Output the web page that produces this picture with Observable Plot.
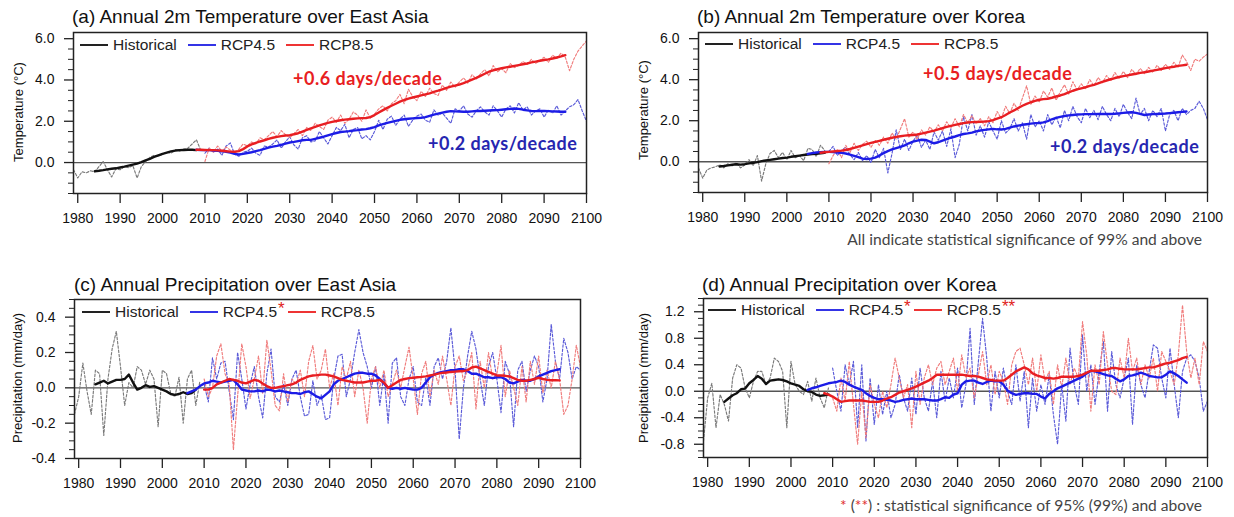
<!DOCTYPE html>
<html>
<head>
<meta charset="utf-8">
<script src="https://cdn.jsdelivr.net/npm/d3@7"></script>
<script src="https://cdn.jsdelivr.net/npm/@observablehq/plot@0.6"></script>
<style>
  body { margin: 0; background: #fff; }
  #root { position: relative; width: 1234px; height: 517px; overflow: hidden; font-family: "Liberation Sans", Arial, sans-serif; color: #111; }
  .panel { position: absolute; }
  .panel svg { overflow: visible; }
  .title { position: absolute; font-size: 19px; line-height: 20px; white-space: nowrap; color: #111; }
  .ylab { position: absolute; font-size: 13px; white-space: nowrap; transform: translate(-50%, -50%) rotate(-90deg); color: #111; }
  .legend { position: absolute; display: flex; align-items: center; font-size: 15.5px; line-height: 18px; white-space: nowrap; color: #222; }
  .legend .sw { display: inline-block; width: 28px; height: 2px; margin-right: 5px; }
  .legend .lab { margin-right: 11px; }
  .legend .star { color: #e02020; position: relative; top: -3px; font-size: 17px; margin-left: 1px; margin-right: 3px; }
  .note { position: absolute; font-family: Lato, "Open Sans", sans-serif; font-weight: 700; font-size: 18px; letter-spacing: 0.5px; line-height: 18px; white-space: nowrap; }
  .caption { position: absolute; font-family: Lato, "Open Sans", sans-serif; font-size: 15.6px; line-height: 16px; white-space: nowrap; color: #444; }
  .caption .red { color: #e03030; }
</style>
</head>
<body>
<div id="root"></div>
<script>
// ---------------- shared ticks ----------------
const xTicks = [1980, 1990, 2000, 2010, 2020, 2030, 2040, 2050, 2060, 2070, 2080, 2090, 2100];
const tempMajorTicks = [0, 2, 4, 6];
const tempMinorTicks = [-1.5, -1, -0.5, 0.5, 1, 1.5, 2.5, 3, 3.5, 4.5, 5, 5.5];
const precipEAMajorTicks = [-0.4, -0.2, 0, 0.2, 0.4];
const precipEAMinorTicks = [-0.35, -0.3, -0.25, -0.15, -0.1, -0.05, 0.05, 0.1, 0.15, 0.25, 0.3, 0.35, 0.45, 0.5];
const precipKRMajorTicks = [-0.8, -0.4, 0, 0.4, 0.8, 1.2];
const precipKRMinorTicks = [-1.0, -0.9, -0.7, -0.6, -0.5, -0.3, -0.2, -0.1, 0.1, 0.2, 0.3, 0.5, 0.6, 0.7, 0.9, 1.0, 1.1, 1.3, 1.4];

const histAnnualStart = 1979;
const rcpAnnualStart = 2010;
const histSmoothStart = 1984;

// ---------------- (a) Temperature, East Asia ----------------
const aHistAnnual = [-0.35, -0.75, -0.45, -0.5, -0.4, -0.45, -0.2, 0.05, -0.35, -0.7, -0.3, -0.35, -0.2, -0.25, -0.15, -0.75, -0.2, 0.05, 0.25, 0.35, 0.3, 0.4, 0.5, 0.45, 0.6, 0.55, 0.65, 0.7, 0.9, 1.1, 0.6];
const aRcp45Annual = [0.45, 0.7, 0.5, 0.65, 0.35, 0.8,
  0.95, 0.4, 0.3, 0.5, 0.55, 0.7, 0.45, 0.35, 0.8, 0.75,
  0.9, 1.1, 0.7, 1.0, 1.25, 0.85, 0.65, 1.2, 1.3, 1.0,
  1.05, 1.5, 1.2, 0.9, 1.3, 1.7, 1.55, 1.85, 1.2, 1.6,
  1.7, 1.15, 1.3, 1.1, 1.5, 2.05, 1.6, 2.1, 2.25, 1.8,
  2.1, 2.3, 1.75, 2.05, 2.25, 2.35, 2.05, 1.95, 2.55, 2.3,
  2.4, 2.15, 1.9, 2.6, 2.5, 2.75, 2.35, 2.2, 2.5, 2.7,
  2.45, 2.3, 2.75, 2.5, 2.2, 2.6, 2.75, 2.4, 2.9, 2.55,
  2.7, 2.3, 2.5, 2.6, 2.2, 2.55, 2.4, 2.75, 2.3, 2.5,
  2.7, 2.8, 3.05, 2.5, 2.0];
const aRcp85Annual = [0.05, 0.7, 0.5, 0.8, 0.55, 0.75,
  0.6, 0.45, 0.65, 0.9, 0.8, 1.0, 0.9, 1.2, 1.1, 1.3,
  1.5, 1.25, 1.55, 1.35, 1.2, 1.4, 1.6, 1.3, 1.7, 1.55,
  1.9, 1.75, 1.6, 2.05, 2.2, 1.95, 2.3, 1.9, 2.1, 2.45,
  2.3, 2.0, 2.55, 2.15, 2.35, 2.6, 2.75, 2.5, 2.85, 3.0,
  3.3, 2.85, 3.55, 3.2, 3.0, 3.45, 3.2, 3.6, 3.35, 3.25,
  3.75, 3.5, 3.9, 3.65, 3.9, 4.1, 3.85, 4.25, 4.05, 4.3,
  4.5, 4.2, 4.7, 4.4, 4.55, 4.35, 4.8, 4.6, 4.7, 4.9,
  4.75, 5.0, 4.8, 4.95, 5.1, 4.85, 5.2, 5.05, 5.3, 5.1,
  4.45, 5.0, 5.4, 5.65, 5.9];
const aHistSmooth = [-0.42, -0.4, -0.37, -0.33, -0.3, -0.28, -0.24, -0.2, -0.15, -0.1, -0.05, 0.02, 0.1, 0.18, 0.27, 0.35, 0.42, 0.48, 0.54, 0.58, 0.6, 0.61, 0.62, 0.62, 0.6];
const aRcp45SmoothStart = 2008;
const aRcp45Smooth = [0.62, 0.6, 0.6, 0.6, 0.58, 0.57, 0.55, 0.52, 0.48, 0.42,
  0.39, 0.42, 0.46, 0.5, 0.55, 0.6, 0.66, 0.72, 0.77, 0.81,
  0.86, 0.92, 0.97, 1.0, 1.04, 1.08, 1.1, 1.1, 1.15, 1.2,
  1.25, 1.32, 1.38, 1.43, 1.48, 1.5, 1.52, 1.55, 1.57, 1.6,
  1.62, 1.66, 1.72, 1.8, 1.86, 1.92, 1.97, 2.02, 2.07, 2.1,
  2.12, 2.14, 2.16, 2.17, 2.2, 2.26, 2.32, 2.37, 2.42, 2.46,
  2.49, 2.48, 2.47, 2.46, 2.46, 2.48, 2.5, 2.5, 2.51, 2.52,
  2.53, 2.54, 2.56, 2.58, 2.6, 2.62, 2.6, 2.56, 2.53, 2.5,
  2.49, 2.5, 2.5, 2.49, 2.48, 2.47, 2.46, 2.46];
const aRcp85SmoothStart = 2008;
const aRcp85Smooth = [0.62, 0.62, 0.61, 0.6, 0.6, 0.59, 0.57, 0.55, 0.53, 0.52,
  0.55, 0.65, 0.78, 0.88, 0.95, 1.02, 1.08, 1.15, 1.2, 1.24,
  1.28, 1.31, 1.33, 1.37, 1.42, 1.5, 1.58, 1.66, 1.73, 1.8,
  1.86, 1.92, 1.97, 2.01, 2.05, 2.08, 2.1, 2.12, 2.14, 2.15,
  2.16, 2.2, 2.3, 2.42, 2.54, 2.65, 2.75, 2.85, 2.95, 3.03,
  3.1, 3.15, 3.2, 3.25, 3.3, 3.35, 3.42, 3.48, 3.55, 3.62,
  3.68, 3.73, 3.78, 3.85, 3.93, 4.02, 4.1, 4.2, 4.3, 4.4,
  4.47, 4.52, 4.57, 4.61, 4.64, 4.68, 4.72, 4.76, 4.8, 4.85,
  4.89, 4.93, 4.97, 5.0, 5.04, 5.09, 5.14, 5.2];

// ---------------- (b) Temperature, Korea ----------------
const bHistAnnual = [-0.3, -0.8, -0.4, -0.3, -0.25, -0.15, -0.3, -0.1, -0.2, -0.05, -0.3, -0.15, 0.1, -0.2, 0.3, -0.95, -0.1, 0.4, 0.55, 0.2, 0.45, 0.1, 0.55, 0.2, 0.3, 0.05, 0.65, 0.6, 0.25, 0.8, 0.55];
const bRcp45Annual = [0.5, 0.75, 0.3, 0.55, 0.7, 0.35,
  0.1, 0.45, 0.05, 0.3, -0.05, 0.6, 0.2, 0.65, -0.55, 0.4,
  1.55, 0.6, 1.1, 0.55, 1.0, 1.3, 0.7, 1.05, 0.6, 1.45,
  1.05, 1.5, 0.75, 1.6, 0.2, 0.85, 2.2, 1.5, 2.3, 1.3,
  1.75, 1.2, 1.95, 1.5, 1.1, 2.0, 1.4, 1.6, 2.1, 1.5,
  1.9, 1.1, 2.3, 1.7, 2.0, 1.5, 2.3, 1.8, 2.2, 1.65,
  2.5, 2.0, 2.7, 2.2, 1.9, 2.6, 2.15, 2.5, 2.05, 2.7,
  2.3, 2.0, 2.6, 2.2, 2.8, 2.4, 2.1, 3.1, 2.3, 2.6,
  2.0, 2.5, 2.2, 2.6, 1.5, 2.3, 2.5, 2.0, 2.6, 2.3,
  2.5, 2.6, 2.95, 2.6, 2.05];
const bRcp85Annual = [-0.1, 0.3, 0.6, 0.2, 0.8, 0.45,
  0.9, 0.55, 0.85, 1.0, 0.7, 1.05, 0.8, 1.2, 0.9, 1.4,
  1.1, 1.6, 2.1, 1.2, 1.45, 1.1, 1.55, 1.3, 1.7, 1.45,
  1.8, 1.5, 1.95, 1.65, 2.1, 1.7, 2.3, 1.9, 2.25, 1.85,
  2.1, 1.75, 2.2, 1.9, 2.45, 2.1, 2.7, 2.35, 2.85, 2.5,
  3.1, 3.7, 2.8, 3.2, 2.9, 3.45, 3.15, 3.6, 3.0, 3.4,
  3.75, 3.3, 3.9, 3.5, 3.8, 3.55, 4.0, 3.7, 4.1, 3.85,
  4.2, 3.95, 4.35, 4.05, 4.4, 4.1, 4.5, 4.25, 4.55, 4.3,
  4.6, 4.35, 4.7, 4.45, 4.75, 4.5, 4.85, 4.6, 5.2, 4.9,
  4.45, 5.0, 4.9, 5.1, 5.25];
const bHistSmooth = [-0.23, -0.21, -0.18, -0.15, -0.12, -0.14, -0.12, -0.08, -0.05, -0.02, 0.03, 0.06, 0.09, 0.12, 0.15, 0.18, 0.2, 0.24, 0.27, 0.3, 0.33, 0.35, 0.37, 0.39, 0.41, 0.43];
const bRcp45SmoothStart = 2005;
const bRcp45Smooth = [0.38, 0.42, 0.45, 0.47, 0.48, 0.48, 0.47, 0.45, 0.43, 0.4,
  0.35, 0.29, 0.22, 0.15, 0.13, 0.15, 0.2, 0.3, 0.42, 0.52,
  0.6, 0.66, 0.72, 0.8, 0.9, 0.98, 1.03, 1.07, 1.06, 0.98,
  0.9, 0.95, 1.03, 1.1, 1.17, 1.23, 1.3, 1.35, 1.38, 1.42,
  1.48, 1.52, 1.55, 1.58, 1.6, 1.58, 1.57, 1.6, 1.66, 1.72,
  1.76, 1.8, 1.83, 1.86, 1.88, 1.88, 1.92, 1.98, 2.07, 2.14,
  2.19, 2.23, 2.26, 2.28, 2.3, 2.31, 2.32, 2.32, 2.32, 2.33,
  2.33, 2.33, 2.33, 2.34, 2.36, 2.38, 2.4, 2.41, 2.38, 2.33,
  2.28, 2.3, 2.32, 2.33, 2.34, 2.35, 2.37, 2.39, 2.41, 2.43,
  2.45];
const bRcp85SmoothStart = 2008;
const bRcp85Smooth = [0.44, 0.46, 0.48, 0.5, 0.52, 0.54, 0.57, 0.62, 0.68, 0.74,
  0.8, 0.86, 0.92, 0.97, 1.02, 1.07, 1.12, 1.17, 1.21, 1.24,
  1.27, 1.29, 1.3, 1.33, 1.37, 1.42, 1.47, 1.52, 1.58, 1.64,
  1.7, 1.75, 1.8, 1.84, 1.88, 1.91, 1.93, 1.94, 1.95, 1.96,
  1.98, 2.03, 2.1, 2.17, 2.28, 2.4, 2.5, 2.62, 2.73, 2.82,
  2.9, 2.97, 3.02, 3.05, 3.07, 3.12, 3.18, 3.23, 3.3, 3.38,
  3.46, 3.53, 3.58, 3.63, 3.7, 3.75, 3.82, 3.89, 3.96, 4.02,
  4.08, 4.13, 4.17, 4.21, 4.25, 4.29, 4.33, 4.36, 4.4, 4.44,
  4.48, 4.52, 4.56, 4.6, 4.63, 4.67, 4.7, 4.73];

// ---------------- (c) Precipitation, East Asia ----------------
const cHistAnnual = [-0.15, -0.05, 0.14, -0.02, -0.15, 0.1, 0.08, -0.27, 0.05, 0.22, 0.32, 0.12, -0.1, 0.03, 0.0, 0.12, 0.1, 0.02, 0.1, 0.05, -0.22, 0.1, 0.08, -0.03, -0.05, 0.06, -0.2, 0.05, 0.1, -0.1, 0.04];
const cRcp45Annual = [0.02, -0.08, 0.17, 0.05, 0.14, 0.15, -0.02, -0.18, 0.2, 0.05,
  -0.12, 0.02, 0.12, -0.05, -0.17, 0.08, 0.22, -0.05, -0.08, 0.02,
  -0.1, 0.05, 0.1, -0.05, -0.16, -0.15, 0.04, -0.1, -0.04, -0.18,
  -0.17, 0.05, 0.18, 0.19, -0.05, 0.05, 0.2, 0.33, 0.2, 0.12,
  0.0, 0.12, -0.1, 0.08, -0.2, 0.14, 0.17, -0.05, -0.1, 0.05,
  0.12, -0.08, -0.1, 0.06, -0.1, 0.12, 0.17, 0.05, 0.15, 0.34,
  0.1, -0.29, 0.0, 0.18, 0.32, 0.22, 0.05, -0.1, 0.12, 0.2,
  0.05, -0.14, 0.15, 0.08, -0.22, 0.1, 0.15, -0.02, 0.1, 0.18,
  0.12, -0.08, 0.05, 0.36, 0.15, 0.05, 0.28, 0.2, 0.05, 0.12,
  0.1];
const cRcp85Annual = [0.05, -0.05, 0.0, 0.18, 0.25, 0.08, 0.02, -0.35, -0.05, 0.25,
  0.12, -0.06, 0.05, 0.18, -0.03, 0.27, 0.1, -0.1, -0.13, 0.08,
  -0.08, 0.05, 0.02, 0.1, -0.05, 0.15, 0.24, 0.05, 0.1, 0.22,
  0.0, 0.08, -0.1, 0.12, 0.05, 0.15, -0.05, 0.1, 0.0, -0.2,
  0.05, 0.12, 0.0, 0.1, -0.05, 0.02, 0.1, 0.0, 0.12, 0.23,
  0.05, -0.15, 0.08, 0.15, -0.05, 0.1, 0.02, 0.18, 0.05, -0.1,
  0.12, 0.18, 0.04, 0.1, 0.2, -0.12, 0.15, 0.0, 0.2, 0.05,
  0.08, 0.24, -0.05, 0.1, 0.0, -0.1, 0.12, -0.08, 0.15, 0.02,
  0.18, -0.03, 0.1, 0.0, 0.15, 0.05, -0.15, -0.1, 0.05, 0.24,
  0.12];
const cHistSmooth = [0.02, 0.03, 0.04, 0.025, 0.035, 0.045, 0.045, 0.05, 0.075, 0.03, -0.01, 0.0, 0.015, 0.005, 0.01, 0.0, -0.01, -0.02, -0.035, -0.04, -0.035, -0.025, -0.035, -0.03, -0.01];
const cRcp45SmoothStart = 2006;
const cRcp45Smooth = [-0.03, -0.02, -0.01, 0.01,
  0.025, 0.03, 0.04, 0.035, 0.03, 0.035, 0.04, 0.045, 0.02, -0.01,
  -0.015, -0.02, -0.02, -0.015, -0.02, -0.01, -0.013, -0.02, -0.015, -0.02,
  -0.025, -0.03, -0.03, -0.035, -0.025, -0.02, -0.035, -0.05, -0.06, -0.04,
  -0.02, 0.02, 0.04, 0.05, 0.06, 0.07, 0.08, 0.085, 0.085, 0.08,
  0.08, 0.07, 0.05, 0.025, 0.0, -0.005, 0.0, -0.005, 0.0, -0.005,
  -0.01, -0.01, 0.0, 0.03, 0.06, 0.075, 0.085, 0.09, 0.095, 0.1,
  0.1, 0.105, 0.105, 0.095, 0.08, 0.08, 0.07, 0.06, 0.06, 0.055,
  0.06, 0.06, 0.05, 0.03, 0.025, 0.035, 0.045, 0.04, 0.04, 0.05,
  0.065, 0.075, 0.085, 0.095, 0.1, 0.105];
const cRcp85SmoothStart = 2010;
const cRcp85Smooth = [-0.01, -0.01, 0.0, 0.02, 0.03, 0.04, 0.05, 0.045, 0.04, 0.03,
  0.025, 0.035, 0.045, 0.04, 0.025, 0.01, 0.0, 0.0, 0.005, 0.01,
  0.015, 0.02, 0.03, 0.045, 0.055, 0.065, 0.07, 0.072, 0.075, 0.075,
  0.07, 0.065, 0.055, 0.045, 0.04, 0.035, 0.03, 0.03, 0.03, 0.035,
  0.04, 0.04, 0.045, 0.03, 0.0, 0.015, 0.03, 0.045, 0.05, 0.055,
  0.057, 0.06, 0.062, 0.065, 0.07, 0.075, 0.08, 0.085, 0.087, 0.09,
  0.092, 0.094, 0.095, 0.1, 0.115, 0.12, 0.11, 0.1, 0.09, 0.08,
  0.07, 0.07, 0.068, 0.065, 0.055, 0.045, 0.04, 0.04, 0.045, 0.05,
  0.057, 0.05, 0.045, 0.043, 0.043, 0.042];

// ---------------- (d) Precipitation, Korea ----------------
const dHistAnnual = [-0.75, -0.1, 0.12, -0.55, -0.05, -0.2, -0.45, 0.2, 0.4, 0.35, 0.05, -0.1, 0.15, 0.3, 0.3, 0.1, 0.2, 0.5, 0.45, 0.3, -0.55, 0.45, 0.1, 0.0, -0.05, 0.15, -0.15, 0.2, -0.1, -0.25, 0.05];
const dRcp45Annual = [0.35, 0.0, -0.3, 0.4, 0.1, 0.45, -0.55, 0.4, -0.75, 0.2,
  -0.5, 0.1, -0.35, 0.0, -0.4, -0.2, 0.25, -0.1, -0.3, 0.2,
  -0.35, 0.35, -0.1, -0.3, 0.15, -0.4, 0.3, -0.15, 0.2, -0.1,
  0.35, -0.25, 0.1, 0.95, -0.2, 0.45, 1.1, 0.5, -0.3, 0.3,
  -0.1, 0.35, 0.0, -0.2, 0.4, -0.15, 0.3, -0.55, 0.2, -0.3,
  0.1, -0.2, 0.25, -0.35, -0.8, 0.1, -0.45, 0.65, 0.1, -0.2,
  0.85, 0.0, 0.4, -0.2, 0.3, 0.75, -0.3, 0.6, 0.1, -0.1,
  0.2, 0.5, -0.5, 0.4, 0.1, -0.1, 0.3, 0.7, 0.65, 0.2,
  -0.1, 0.65, 0.1, -0.4, 0.3, 0.5, 0.55, 0.45, 0.2, -0.3,
  -0.15];
const dRcp85Annual = [-0.1, -0.3, 0.2, -0.15, 0.45, -0.2, -0.8, 0.0, -0.7, 0.1,
  -0.2, -0.4, 0.0, -0.25, 0.1, 0.5, 0.2, -0.1, 0.1, -0.55,
  0.3, -0.2, 0.2, 0.4, 0.1, 0.35, 0.45, 0.1, 0.3, 0.5,
  0.0, 0.55, 0.2, 0.35, -0.1, 0.25, 0.6, 0.1, 0.4, -0.05,
  0.3, 0.15, -0.2, 0.4, 0.6, 0.65, 0.4, 0.1, 0.5, 0.0,
  0.55, 0.15, 0.3, -0.2, 0.4, 0.05, 0.5, 0.1, 0.35, 0.2,
  1.05, 0.55, -0.3, 0.4, 0.1, 0.9, 0.4, 0.0, -0.05, 0.5,
  0.2, 0.8, 0.3, 0.5, 0.1, 0.4, 0.2, 0.5, 0.0, 0.6,
  0.45, 0.3, 0.1, 0.55, 1.3, 0.6, 0.2, 0.5, 0.1, 0.75,
  0.6];
const dHistSmooth = [-0.16, -0.11, -0.06, -0.03, 0.03, 0.04, 0.12, 0.17, 0.23, 0.19, 0.11, 0.16, 0.17, 0.18, 0.17, 0.15, 0.12, 0.1, 0.08, 0.03, 0.0, -0.01, -0.05, -0.07, -0.06, -0.05];
const dRcp45SmoothStart = 2004;
const dRcp45Smooth = [0.02, 0.045, 0.06, 0.08, 0.1, 0.12,
  0.13, 0.14, 0.16, 0.14, 0.1, 0.07, 0.045, 0.02, -0.03, -0.07,
  -0.1, -0.12, -0.12, -0.13, -0.14, -0.16, -0.15, -0.13, -0.12, -0.11,
  -0.12, -0.12, -0.12, -0.13, -0.14, -0.14, -0.12, -0.09, -0.1, -0.05,
  -0.03, 0.1, 0.15, 0.16, 0.16, 0.13, 0.11, 0.14, 0.16, 0.15,
  0.15, 0.1, 0.01, -0.03, -0.055, -0.04, -0.03, -0.03, -0.04, -0.04,
  -0.08, -0.11, -0.04, 0.0, 0.045, 0.07, 0.1, 0.13, 0.16, 0.19,
  0.22, 0.27, 0.31, 0.3, 0.28, 0.26, 0.24, 0.23, 0.19, 0.15,
  0.18, 0.23, 0.24, 0.26, 0.28, 0.26, 0.23, 0.22, 0.21, 0.21,
  0.25, 0.3, 0.27, 0.23, 0.18, 0.13];
const dRcp85SmoothStart = 2008;
const dRcp85Smooth = [-0.03, -0.05,
  -0.08, -0.12, -0.16, -0.15, -0.14, -0.14, -0.14, -0.14, -0.15, -0.16,
  -0.16, -0.16, -0.14, -0.11, -0.09, -0.055, -0.02, 0.0, 0.02, 0.045,
  0.07, 0.1, 0.13, 0.16, 0.2, 0.25, 0.25, 0.25, 0.25, 0.25,
  0.25, 0.25, 0.24, 0.23, 0.23, 0.22, 0.2, 0.18, 0.17, 0.16,
  0.16, 0.16, 0.2, 0.25, 0.3, 0.33, 0.36, 0.33, 0.27, 0.24,
  0.22, 0.2, 0.2, 0.19, 0.2, 0.22, 0.22, 0.22, 0.22, 0.23,
  0.25, 0.28, 0.31, 0.31, 0.31, 0.32, 0.33, 0.35, 0.35, 0.34,
  0.33, 0.33, 0.33, 0.33, 0.34, 0.35, 0.36, 0.36, 0.38, 0.4,
  0.42, 0.43, 0.45, 0.47, 0.5, 0.52];

// ---------------- colours ----------------
const colHistDash = "#7a7a7a", col45Dash = "#5a5ad8", col85Dash = "#f07c7c";
const colHist = "#111111", col45 = "#1c1ce6", col85 = "#e81e22";

function rows(start, values) { return values.map((v, i) => ({ year: start + i, value: v })); }

const panels = [
  { left: 0, top: 0, width: 600, height: 230, ml: 73, mr: 14, mt: 32, mb: 37, yDomain: [-1.5, 6.3],
    major: tempMajorTicks, minor: tempMinorTicks,
    hA: aHistAnnual, r45A: aRcp45Annual, r85A: aRcp85Annual,
    hS: aHistSmooth, r45S: aRcp45Smooth, r45Start: aRcp45SmoothStart, r85S: aRcp85Smooth, r85Start: aRcp85SmoothStart },
  { left: 620, top: 0, width: 600, height: 230, ml: 78, mr: 13, mt: 32, mb: 38, yDomain: [-1.5, 6.3],
    major: tempMajorTicks, minor: tempMinorTicks,
    hA: bHistAnnual, r45A: bRcp45Annual, r85A: bRcp85Annual,
    hS: bHistSmooth, r45S: bRcp45Smooth, r45Start: bRcp45SmoothStart, r85S: bRcp85Smooth, r85Start: bRcp85SmoothStart },
  { left: 0, top: 260, width: 600, height: 230, ml: 74, mr: 20, mt: 39, mb: 32, yDomain: [-0.4, 0.5],
    major: precipEAMajorTicks, minor: precipEAMinorTicks,
    hA: cHistAnnual, r45A: cRcp45Annual, r85A: cRcp85Annual,
    hS: cHistSmooth, r45S: cRcp45Smooth, r45Start: cRcp45SmoothStart, r85S: cRcp85Smooth, r85Start: cRcp85SmoothStart },
  { left: 620, top: 260, width: 600, height: 230, ml: 83, mr: 13, mt: 38, mb: 33, yDomain: [-1.0, 1.4],
    major: precipKRMajorTicks, minor: precipKRMinorTicks,
    hA: dHistAnnual, r45A: dRcp45Annual, r85A: dRcp85Annual,
    hS: dHistSmooth, r45S: dRcp45Smooth, r45Start: dRcp45SmoothStart, r85S: dRcp85Smooth, r85Start: dRcp85SmoothStart }
];

const root = document.getElementById("root");

for (const p of panels) {
  const dash = { x: "year", y: "value", strokeWidth: 1.15, strokeDasharray: "2.5,1.8" };
  const solid = { x: "year", y: "value", strokeWidth: 2.4 };
  const chart = Plot.plot({
    width: p.width, height: p.height,
    marginLeft: p.ml, marginRight: p.mr, marginTop: p.mt, marginBottom: p.mb,
    x: { domain: [1979, 2100] },
    y: { domain: p.yDomain },
    style: { fontFamily: "'Liberation Sans', Arial, sans-serif", fontSize: "14px", color: "#111", background: "transparent", overflow: "visible" },
    marks: [
      Plot.ruleY([0], { stroke: "#555", strokeWidth: 1.3 }),
      Plot.lineY(rows(histAnnualStart, p.hA), { ...dash, stroke: colHistDash }),
      Plot.lineY(rows(rcpAnnualStart, p.r45A), { ...dash, stroke: col45Dash }),
      Plot.lineY(rows(rcpAnnualStart, p.r85A), { ...dash, stroke: col85Dash }),
      Plot.lineY(rows(histSmoothStart, p.hS), { ...solid, stroke: colHist }),
      Plot.lineY(rows(p.r45Start, p.r45S), { ...solid, stroke: col45 }),
      Plot.lineY(rows(p.r85Start, p.r85S), { ...solid, stroke: col85 }),
      Plot.axisX({ ticks: xTicks, tickSize: 10, tickPadding: 10, tickFormat: d => String(d), label: null, stroke: "#222", strokeWidth: 1.3 }),
      Plot.axisY({ ticks: p.minor, tickSize: 5, tickFormat: () => "", label: null, stroke: "#222" }),
      Plot.axisY({ ticks: p.major, tickSize: 9, tickPadding: 10, tickFormat: d => d.toFixed(1), label: null, stroke: "#222", strokeWidth: 1.3 }),
      Plot.frame({ stroke: "#222", strokeWidth: 1.5 })
    ]
  });
  const holder = document.createElement("div");
  holder.className = "panel";
  holder.style.left = p.left + "px";
  holder.style.top = p.top + "px";
  holder.appendChild(chart);
  root.appendChild(holder);
}

// ---------------- text overlays ----------------
function addDiv(cls, html, styles) {
  const d = document.createElement("div");
  d.className = cls;
  d.innerHTML = html;
  Object.assign(d.style, styles);
  root.appendChild(d);
  return d;
}

const titles = [
  ["(a) Annual 2m Temperature over East Asia", 72, 7],
  ["(b) Annual 2m Temperature over Korea", 697, 7],
  ["(c) Annual Precipitation over East Asia", 74, 275],
  ["(d) Annual Precipitation over Korea", 702, 275]
];
for (const [t, x, y] of titles) addDiv("title", t, { left: x + "px", top: y + "px" });

const yLabels = [
  ["Temperature (°C)", 18, 112],
  ["Temperature (°C)", 643, 110],
  ["Precipitation (mm/day)", 17, 378],
  ["Precipitation (mm/day)", 643, 378]
];
for (const [t, x, y] of yLabels) addDiv("ylab", t, { left: x + "px", top: y + "px" });

const legendNames = ["Historical", "RCP4.5", "RCP8.5"];
const legendColors = ["#222", "#3434e6", "#ee3434"];
const legends = [
  { x: 80, y: 36, stars: ["", "", ""] },
  { x: 705, y: 35, stars: ["", "", ""] },
  { x: 82, y: 303, stars: ["", "*", ""] },
  { x: 708, y: 301, stars: ["", "*", "**"] }
];
for (const lg of legends) {
  let html = "";
  legendNames.forEach((n, i) => {
    html += `<span class="sw" style="background:${legendColors[i]}"></span><span class="lab"${lg.stars[i] ? ' style="margin-right:0"' : ""}>${n}</span>`;
    if (lg.stars[i]) html += `<span class="star">${lg.stars[i]}</span>`;
  });
  addDiv("legend", html, { left: lg.x + "px", top: lg.y + "px" });
}

const notes = [
  ["+0.6 days/decade", 293, 69, col85],
  ["+0.2 days/decade", 428, 134, "#2626b0"],
  ["+0.5 days/decade", 923, 64, col85],
  ["+0.2 days/decade", 1050, 137, "#2626b0"]
];
for (const [t, x, y, c] of notes) addDiv("note", t, { left: x + "px", top: y + "px", color: c });

addDiv("caption", "All indicate statistical significance of 99% and above", { right: "32px", top: "231px" });
addDiv("caption", '<span class="red">*</span> (<span class="red">**</span>) : statistical significance of 95% (99%) and above', { right: "32px", top: "497px" });
</script>
</body>
</html>
